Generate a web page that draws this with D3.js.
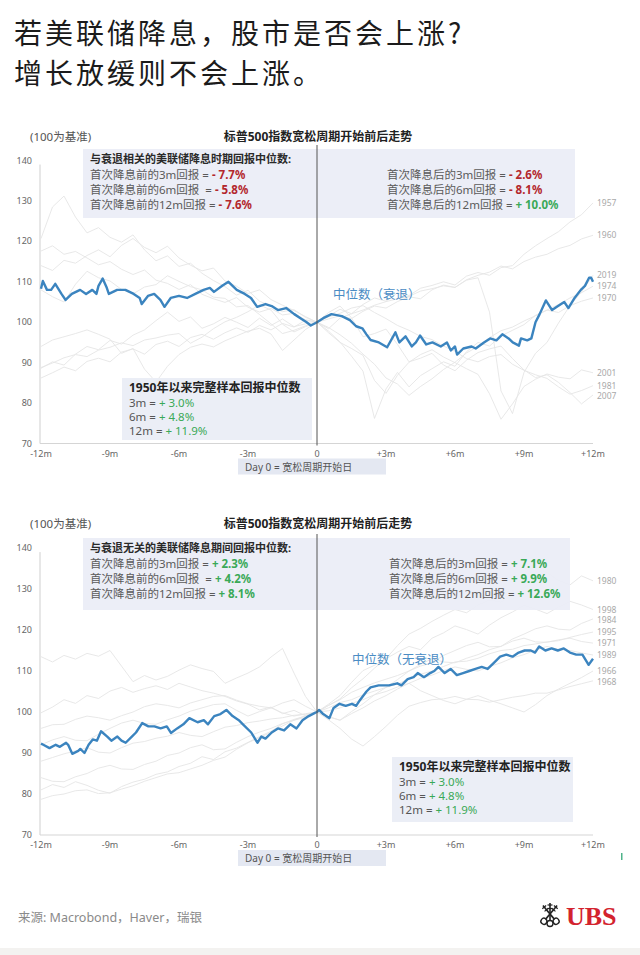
<!DOCTYPE html>
<html><head><meta charset="utf-8">
<script src="https://cdn.jsdelivr.net/npm/d3@7"></script>
<style>
body{margin:0;background:#fff;}
svg{display:block;font-family:"Noto Sans","Noto Sans CJK SC",sans-serif;}
text{white-space:pre;}
.ttl{font-family:"Noto Sans CJK SC",sans-serif;}
</style></head><body>
<svg id="c" width="640" height="955"></svg>
<script>
// ---------- axis ticks ----------
const xTickVals = [-12,-9,-6,-3,0,3,6,9,12];
const xTickLabels = ['-12m','-9m','-6m','-3m','0','+3m','+6m','+9m','+12m'];
const yTickVals = [70,80,90,100,110,120,130,140];
const titleLines = ['若美联储降息，股市是否会上涨?','增长放缓则不会上涨。'];

// ---------- recession episodes (top chart), half-month samples from -12m to +12m ----------
const recYears = ['1957','1960','2019','1974','1970','2001','1981','2007'];
const rec1957 = [88.6,90.2,89.4,92.1,94.0,93.2,95.5,94.6,96.8,98.1,100.4,102.5,100.2,101.3,98.5,99.6,101.2,100.0,98.7,101.0,99.2,100.8,98.9,99.6,100,101.5,103.2,102.1,104.4,106.0,105.2,107.3,106.6,108.4,109.1,110.0,109.2,111.4,112.3,111.6,113.5,114.0,116.8,118.9,120.7,122.4,124.8,126.6,129.5];
const rec1960 = [114.0,112.8,115.3,114.6,116.5,117.9,116.2,119.0,120.7,118.5,117.2,118.8,115.9,114.1,112.7,113.4,110.2,108.9,107.1,108.0,105.6,104.2,102.9,101.4,100,100.8,101.6,100.9,102.7,104.0,103.5,105.1,106.3,105.8,108.0,109.2,108.6,110.5,111.6,112.4,113.9,113.2,115.0,116.1,116.8,118.2,119.0,120.6,121.5];
const rec2019 = [94.0,95.6,96.4,97.2,98.1,97.0,95.8,92.3,93.5,88.4,85.2,89.1,92.0,93.8,94.6,93.9,95.4,96.6,97.8,98.5,97.1,93.0,95.6,98.2,100,98.4,101.0,102.1,103.0,104.2,105.1,105.8,106.4,107.7,108.3,109.0,108.6,110.4,111.0,102.5,83.0,77.4,87.6,92.3,95.0,99.8,104.1,107.5,111.6];
const rec1974 = [120.7,128.5,131.2,126.0,122.1,123.4,121.0,119.8,121.6,117.9,115.2,116.4,113.8,114.6,112.1,110.3,108.8,106.7,107.9,105.2,104.0,102.6,103.1,101.2,100,97.8,95.1,91.6,87.9,76.2,83.5,87.6,84.0,86.8,88.5,90.2,89.1,92.7,95.0,94.1,96.6,98.0,99.4,101.7,103.0,104.4,106.0,107.3,108.9];
const rec1970 = [117.6,118.9,116.8,117.5,115.9,114.2,115.0,113.1,111.8,112.9,110.4,109.6,108.1,109.3,106.9,105.8,104.9,106.1,103.7,102.5,103.4,101.8,102.2,100.6,100,98.7,96.9,94.8,92.1,89.6,86.2,84.7,81.9,84.1,86.0,88.3,90.1,92.4,94.0,96.2,97.9,98.8,100.3,101.6,103.0,102.4,104.1,105.2,106.0];
const rec2001 = [108.0,106.3,105.0,109.4,112.6,111.0,110.2,108.1,107.0,108.7,109.3,111.5,110.1,108.8,108.0,106.2,105.9,103.8,104.1,101.9,99.6,97.2,98.0,99.1,100,97.4,95.0,93.5,91.8,85.6,82.4,86.9,90.1,92.0,93.2,91.4,90.0,88.5,87.1,82.3,76.0,79.8,84.1,85.9,87.2,86.4,86.0,88.2,87.5];
const rec1981 = [86.2,87.5,88.9,88.0,90.3,91.1,90.2,92.6,93.4,92.1,94.5,95.3,94.0,96.2,97.0,95.8,97.4,98.6,97.5,99.2,98.1,99.7,98.8,100.5,100,101.3,102.2,103.5,104.1,102.4,100.9,99.2,98.0,96.5,95.7,94.1,92.8,91.0,90.2,91.5,92.0,89.6,88.1,87.0,86.1,84.0,82.2,83.1,84.3];
const rec2007 = [88.8,89.9,91.2,92.0,91.5,93.1,93.8,94.9,94.2,95.6,96.1,96.8,97.2,94.8,96.3,98.4,100.1,101.2,102.6,104.3,103.0,99.5,97.6,98.9,100,102.4,104.0,101.1,96.4,97.2,98.3,94.5,90.2,91.1,92.3,89.4,88.0,90.6,92.5,93.4,94.1,91.0,88.2,86.3,87.0,85.1,82.6,79.8,82.0];

// median of recession episodes: [month, index]
const medianRec = [[-12,108.3],[-11.92,110.2],[-11.74,108],[-11.56,108],[-11.38,109.5],[-11.11,107],[-10.93,105.5],[-10.66,107],[-10.3,108],[-10.04,107],[-9.77,108],[-9.59,107],[-9.5,109],[-9.32,110.8],[-9.14,108.5],[-9.05,107],[-8.69,108],[-8.33,108],[-7.97,107],[-7.71,106],[-7.62,104.5],[-7.35,106.5],[-7.08,107],[-6.81,105.5],[-6.63,103.8],[-6.36,106],[-6.0,106.5],[-5.65,106],[-5.29,107],[-4.93,108],[-4.66,108.5],[-4.48,107.5],[-4.12,109],[-3.85,110],[-3.49,108],[-3.14,107],[-2.87,106],[-2.6,103.8],[-2.24,104.5],[-1.97,104],[-1.7,103],[-1.34,103.5],[-0.99,102],[-0.72,101],[-0.45,100],[-0.27,99.2],[0,100],[0.27,101],[0.63,102],[1.08,101.5],[1.43,100.5],[1.7,99],[1.97,98.5],[2.15,97],[2.33,95.6],[2.69,95],[3.05,93.8],[3.41,97.5],[3.58,95],[3.85,96.5],[4.12,94],[4.3,95],[4.48,96.7],[4.75,94.5],[5.02,95],[5.38,94],[5.65,95],[5.82,93],[6.0,94],[6.09,92],[6.36,93.5],[6.72,94],[6.9,93.5],[7.26,95],[7.53,96],[7.8,95.5],[8.06,97],[8.33,96],[8.51,95],[8.78,94.2],[8.87,96],[9.14,95.5],[9.32,96],[9.5,100],[9.68,102],[9.95,105.4],[10.22,103],[10.48,104],[10.75,105],[10.93,103.5],[11.2,106],[11.47,108],[11.65,109],[11.83,111],[11.92,111],[12,110]];

// ---------- non-recession episodes (bottom chart) ----------
const nonYears = ['1980','1998','1984','1995','1971','1989','1966','1968'];
const non1980 = [81.0,82.3,81.6,83.0,82.1,80.9,80.2,81.8,82.9,83.6,84.8,85.4,86.7,87.5,89.1,88.4,90.3,91.2,92.6,94.0,95.3,97.1,98.2,99.0,100,101.6,103.2,105.9,108.1,110.7,113.0,116.2,119.0,120.4,122.1,123.6,125.0,124.2,126.1,127.3,126.8,128.6,130.2,132.5,134.0,132.1,131.0,133.2,132.0];
const non1998 = [113.5,112.2,113.8,112.9,114.3,113.6,115.0,111.2,107.4,108.9,107.8,108.7,110.2,111.5,110.6,109.9,107.0,108.3,109.5,111.0,113.4,115.5,109.5,103.8,100,101.9,104.0,107.2,110.1,111.4,113.0,114.6,116.0,115.2,118.0,119.3,121.0,120.1,119.0,121.2,123.0,124.4,126.0,125.1,124.0,125.6,127.0,126.1,125.0];
const non1984 = [99.8,101.2,103.0,102.1,104.0,103.3,105.1,106.0,104.8,105.7,106.4,105.5,107.0,106.1,105.2,104.6,103.8,102.7,101.9,100.5,101.2,99.6,100.4,99.1,100,98.8,98.0,100.1,102.0,104.2,106.0,107.9,110.0,111.2,112.0,113.8,115.0,116.2,117.0,115.9,116.0,117.8,119.0,120.3,121.0,120.2,120.0,121.6,122.7];
const non1995 = [88.0,88.9,89.8,90.5,91.3,90.2,90.0,91.3,92.4,92.8,93.6,94.1,95.0,94.3,94.0,95.2,96.3,96.7,97.4,97.8,98.3,98.6,99.2,99.4,100,101.0,102.3,103.0,104.2,105.1,106.0,106.8,108.1,109.2,110.0,111.1,112.2,112.4,113.1,114.2,115.0,115.3,116.2,116.6,117.1,117.4,118.2,118.9,119.5];
const non1971 = [84.0,83.1,83.0,84.2,85.0,86.3,87.0,86.1,86.0,87.2,88.0,89.4,90.0,91.3,92.0,90.8,91.0,92.6,94.0,95.1,96.0,97.2,98.0,98.7,100,101.6,103.0,104.8,106.0,107.1,108.0,108.9,110.0,111.6,113.0,112.2,112.0,113.1,114.0,115.2,116.0,117.3,118.0,117.1,117.0,117.6,118.0,117.2,116.8];
const non1989 = [92.0,93.2,94.0,93.1,93.0,94.6,96.0,97.3,98.0,97.2,97.0,98.1,99.0,100.2,101.0,101.8,102.0,100.4,99.0,100.1,101.0,102.2,103.0,101.4,100,100.3,101.0,102.1,103.0,104.2,105.0,106.1,107.0,108.2,109.0,110.1,111.0,110.4,110.0,111.1,112.0,113.2,114.0,115.1,116.0,115.3,115.0,114.4,113.9];
const non1966 = [96.0,96.9,97.0,98.2,99.0,98.6,98.0,99.1,100.0,101.3,102.0,101.6,101.0,102.2,103.0,103.8,104.0,102.9,102.0,101.4,101.0,99.8,99.0,99.6,100,98.9,98.0,99.6,101.0,102.7,104.0,105.6,107.0,105.2,104.0,102.8,102.0,103.1,104.0,102.9,102.0,101.0,100.0,101.8,104.0,105.6,107.0,108.4,110.0];
const non1968 = [78.7,79.6,80.0,80.8,81.0,80.1,80.3,81.2,82.0,83.1,84.0,84.9,85.2,86.1,87.0,88.2,89.0,90.9,92.5,93.8,95.0,96.6,98.0,99.1,100,98.1,96.0,93.4,91.7,94.0,96.5,99.2,101.4,102.3,103.0,103.2,103.8,103.1,103.0,102.4,103.0,103.6,104.0,104.6,104.6,105.4,106.2,106.9,107.6];

const medianNon = [[-12,92.3],[-11.9,92],[-11.63,91.2],[-11.36,92],[-11.18,91.5],[-10.91,92.5],[-10.82,92],[-10.64,89.8],[-10.38,90.5],[-10.29,91],[-10.11,90],[-9.93,92],[-9.75,93.3],[-9.57,93],[-9.39,95.3],[-9.12,94],[-8.94,93],[-8.68,94],[-8.5,93],[-8.32,92.5],[-8.05,94],[-7.87,95],[-7.6,97.3],[-7.33,96.5],[-7.07,96.5],[-6.8,96],[-6.53,96.5],[-6.35,94.9],[-6.08,96],[-5.81,97],[-5.55,98.5],[-5.19,97.5],[-4.92,98],[-4.74,97],[-4.47,99],[-4.2,99.5],[-3.94,100.5],[-3.67,99],[-3.4,98],[-3.22,97],[-2.86,95],[-2.59,92.5],[-2.42,94],[-2.24,93.5],[-1.97,95],[-1.7,96],[-1.43,95.5],[-1.16,97],[-0.89,96],[-0.63,98],[-0.36,99],[-0.09,99.8],[0,100],[0.09,100.5],[0.27,99.5],[0.54,98.5],[0.72,101],[0.98,102],[1.25,101.5],[1.52,102],[1.7,101.5],[1.88,103],[2.15,105],[2.33,106],[2.68,106.5],[3.13,106.5],[3.49,107],[3.67,106.5],[3.94,108],[4.2,108.5],[4.38,109.5],[4.65,108.5],[4.92,109.5],[5.1,110],[5.28,111],[5.55,109.5],[5.81,110.5],[6.08,109],[6.35,109.5],[6.62,110],[6.89,110.5],[7.16,111],[7.42,110.5],[7.69,112],[7.96,113.5],[8.23,114],[8.5,113.5],[8.77,114.5],[9.03,115],[9.3,115],[9.48,114.5],[9.66,116],[9.93,115],[10.2,115.5],[10.47,115],[10.73,115.5],[11.0,114.5],[11.27,114],[11.54,114],[11.81,111.5],[12,113]];

// ---------- text blocks ----------
const RED = '#b3272d', GREEN = '#3aa957';
const topBox = {
  head: '与衰退相关的美联储降息时期回报中位数:',
  left: [['首次降息前的3m回报 = ','- 7.7%',RED],['首次降息前的6m回报  = ','- 5.8%',RED],['首次降息前的12m回报 = ','- 7.6%',RED]],
  right: [['首次降息后的3m回报 = ','- 2.6%',RED],['首次降息后的6m回报 = ','- 8.1%',RED],['首次降息后的12m回报 = ','+ 10.0%',GREEN]]
};
const botBox = {
  head: '与衰退无关的美联储降息期间回报中位数:',
  left: [['首次降息前的3m回报 = ','+ 2.3%',GREEN],['首次降息前的6m回报  = ','+ 4.2%',GREEN],['首次降息前的12m回报 = ','+ 8.1%',GREEN]],
  right: [['首次降息后的3m回报 = ','+ 7.1%',GREEN],['首次降息后的6m回报 = ','+ 9.9%',GREEN],['首次降息后的12m回报 = ','+ 12.6%',GREEN]]
};
const fullSample = {head:'1950年以来完整样本回报中位数', rows:[['3m = ','+ 3.0%'],['6m = ','+ 4.8%'],['12m = ','+ 11.9%']]};

// ---------- drawing ----------
const svg = d3.select('#c');
svg.append('rect').attr('x',0).attr('y',948).attr('width',640).attr('height',7).attr('fill','#f3f2f0');

titleLines.forEach((s,i)=>svg.append('text').attr('class','ttl').attr('x',14).attr('y',43.5+i*40.8)
  .attr('font-size',28).attr('letter-spacing',3).attr('fill','#1b1b1b').text(s));

function drawChart(o){
  const g = svg.append('g');
  const x = d3.scaleLinear().domain([-12,12]).range([41,593]);
  const y = d3.scaleLinear().domain([70,140]).range([o.yBot,o.yTop]);

  g.append('text').attr('x',30).attr('y',o.headY).attr('font-size',11.5).attr('fill','#555').text('(100为基准)');
  g.append('text').attr('x',318).attr('y',o.headY).attr('text-anchor','middle').attr('font-size',12).attr('font-weight','bold').attr('fill','#222').text('标普500指数宽松周期开始前后走势');

  // axes
  g.append('line').attr('x1',x(-12)-1).attr('x2',x(-12)-1).attr('y1',y(139)).attr('y2',y(70)).attr('stroke','#cfcfcf');
  g.append('line').attr('x1',x(-12)-1).attr('x2',x(12)).attr('y1',y(70)).attr('y2',y(70)).attr('stroke','#d5d5d5');
  g.selectAll('.yt').data(yTickVals).enter().append('text')
    .attr('x',32).attr('y',d=>y(d)+3).attr('text-anchor','end').attr('font-size',9).attr('fill','#666').text(d=>d);
  g.selectAll('.xt').data(xTickVals).enter().append('text')
    .attr('x',d=>x(d)).attr('y',y(70)+13).attr('text-anchor','middle').attr('font-size',9).attr('fill','#666')
    .text((d,i)=>xTickLabels[i]);

  // episode lines
  const line = d3.line().x(d=>x(d[0])).y(d=>y(d[1]));
  const labs = [];
  o.series.forEach((s,k)=>{
    const step = 24/(s.length-1);
    const pts = s.map((v,i)=>[-12+i*step,v]);
    g.append('path').attr('d',line(pts)).attr('fill','none').attr('stroke','#e5e5e5').attr('stroke-width',0.9);
    labs.push({t:o.years[k], y:y(s[s.length-1])});
  });
  labs.sort((a,b)=>a.y-b.y);
  for(let i=1;i<labs.length;i++){ if(labs[i].y-labs[i-1].y<10.5) labs[i].y = labs[i-1].y+10.5; }
  labs.forEach(l=>g.append('text').attr('x',597).attr('y',l.y+3).attr('font-size',8.5).attr('fill','#a9a9a9').text(l.t));

  // boxes
  const b = o.box;
  g.append('rect').attr('x',83).attr('y',o.boxY).attr('width',b.w).attr('height',o.boxH).attr('fill','#eaedf6').attr('opacity',0.92);
  const tb = g.append('g').attr('font-size',11.5);
  tb.append('text').attr('x',90).attr('y',o.boxY+14).attr('font-size',11).attr('font-weight','bold').attr('fill','#2a2a2a').text(b.data.head);
  b.data.left.forEach((r,i)=>{
    const t = tb.append('text').attr('x',90).attr('y',o.boxY+30+i*15).attr('fill','#5a5a5a');
    t.append('tspan').text(r[0]);
    t.append('tspan').attr('font-weight','bold').attr('fill',r[2]).text(r[1]);
  });
  b.data.right.forEach((r,i)=>{
    const t = tb.append('text').attr('x',b.rx).attr('y',o.boxY+30+i*15).attr('fill','#5a5a5a');
    t.append('tspan').text(r[0]);
    t.append('tspan').attr('font-weight','bold').attr('fill',r[2]).text(r[1]);
  });

  // median line
  g.append('path').attr('d',line(o.median)).attr('fill','none').attr('stroke','#3b84bf').attr('stroke-width',2.4).attr('stroke-linejoin','round');
  g.append('text').attr('x',o.medLab[0]).attr('y',o.medLab[1]).attr('font-size',12.5).attr('fill','#4a8cc4').text(o.medText);

  // full sample box
  const f = o.full;
  g.append('rect').attr('x',f.x).attr('y',f.y).attr('width',f.w).attr('height',f.h).attr('fill','#eaedf6').attr('opacity',0.95);
  g.append('text').attr('x',f.x+7).attr('y',f.y+14).attr('font-size',12).attr('font-weight','bold').attr('fill','#222').text(fullSample.head);
  fullSample.rows.forEach((r,i)=>{
    const t = g.append('text').attr('x',f.x+7).attr('y',f.y+29+i*14).attr('font-size',11.5).attr('fill','#555');
    t.append('tspan').text(r[0]);
    t.append('tspan').attr('fill',GREEN).text(r[1]);
  });

  // day-0 line
  g.append('line').attr('x1',x(0)).attr('x2',x(0)).attr('y1',o.boxY-4).attr('y2',y(70)+2).attr('stroke','#555').attr('stroke-width',1);

  // day-0 note
  g.append('rect').attr('x',238).attr('y',y(70)+15).attr('width',148).attr('height',16).attr('fill','#e4e8f2');
  g.append('text').attr('x',245).attr('y',y(70)+27).attr('font-size',10).attr('fill','#555').text('Day 0 = 宽松周期开始日');
}

drawChart({yTop:160.5,yBot:443.5,headY:141,boxY:149,boxH:69,
  box:{w:492,rx:387,data:topBox},
  series:[rec1957,rec1960,rec2019,rec1974,rec1970,rec2001,rec1981,rec2007],years:recYears,
  median:medianRec,medLab:[333,299],medText:'中位数（衰退）',
  full:{x:122,y:378,w:190,h:62}});

drawChart({yTop:548,yBot:835,headY:528,boxY:538,boxH:72,
  box:{w:487,rx:389,data:botBox},
  series:[non1980,non1998,non1984,non1995,non1971,non1989,non1966,non1968],years:nonYears,
  median:medianNon,medLab:[352,664],medText:'中位数（无衰退）',
  full:{x:392,y:757,w:181,h:65}});

// footer
svg.append('text').attr('x',18).attr('y',922).attr('font-size',12.5).attr('fill','#8a8a8a').text('来源: Macrobond，Haver，瑞银');
const logo = svg.append('g').attr('transform','translate(550,914)').attr('stroke','#222').attr('fill','none').attr('stroke-width',1.6);
[-40,0,40].forEach(a=>{
  const k = logo.append('g').attr('transform',`rotate(${a})`);
  k.append('line').attr('x1',0).attr('y1',-11).attr('x2',0).attr('y2',7);
  k.append('circle').attr('cx',0).attr('cy',9.5).attr('r',3).attr('stroke-width',1.4);
  k.append('line').attr('x1',-2.5).attr('y1',-9).attr('x2',2.5).attr('y2',-9).attr('stroke-width',1.2);
  k.append('line').attr('x1',-2.5).attr('y1',-5.5).attr('x2',2.5).attr('y2',-5.5).attr('stroke-width',1.2);
});
svg.append('text').attr('x',566).attr('y',925).attr('font-family','"Liberation Serif",serif').attr('font-weight','bold').attr('font-size',26).attr('fill','#d3232e').text('UBS');
svg.append('rect').attr('x',621).attr('y',853).attr('width',1.5).attr('height',7).attr('fill','#4fb38a');
</script>
</body></html>
